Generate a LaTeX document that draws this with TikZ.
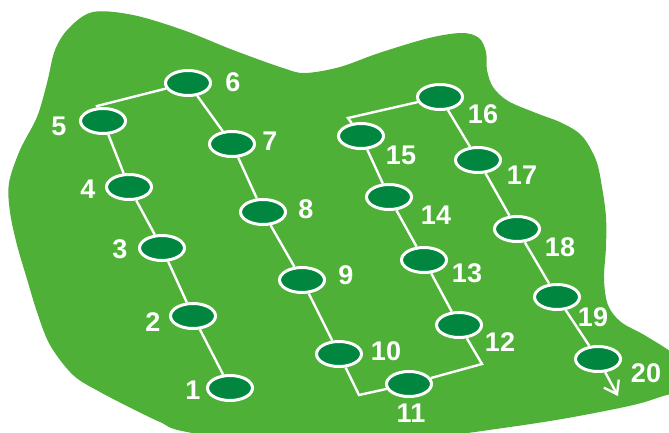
\documentclass[tikz,border=0pt]{standalone}
\usepackage{fontspec}
\setmainfont{Liberation Sans}
\usetikzlibrary{arrows.meta,shapes.geometric}

\definecolor{fieldgreen}{RGB}{78,176,54}
\definecolor{spotgreen}{RGB}{0,134,62}

\begin{document}
\begin{tikzpicture}[
    x=1pt, y=-1pt,
    spot/.style={ellipse, draw=white, line width=3pt, fill=spotgreen,
                 minimum width=45pt, minimum height=25pt, inner sep=0pt},
    link/.style={draw=white, line width=2.4pt},
    num/.style={text=white, font=\bfseries\fontsize{27}{27}\selectfont,
                inner sep=0pt},
  ]
  \useasboundingbox (0,0) rectangle (669,432);

  % field outline
  \begin{scope}
    \clip (0,0) rectangle (669,432);
    \fill[fieldgreen] plot[smooth cycle, tension=0.55] coordinates {
      (93,12) (133,15) (183,30) (233,50) (283,68) (305,73) (340,67)
      (379,53) (429,38) (462,33) (479,38) (486,52) (487,70) (493,87)
      (508,101) (536,113) (562,123) (582,136) (596,160) (602,187)
      (606,217) (606,247) (604,279) (608,305) (621,322) (646,336)
      (678,358) (690,385) (660,397) (629,406) (562,419) (496,429)
      (440,436) (300,448) (187,432) (160,422) (133,409) (100,392)
      (73,375) (50,345) (37,312) (27,279) (17,245) (10,212) (9,183)
      (20,150) (37,117) (47,83) (55,50) (69,28)};
  \end{scope}

  % stations
  \foreach \i/\x/\y in {1/230/388, 2/193/316, 3/162/248, 4/129/187, 5/103/121,
                        6/188/83, 7/232/144, 8/263/212, 9/302/280, 10/339/354,
                        11/409/384, 12/459/325, 13/424/260, 14/389/197,
                        15/361/136, 16/440/97, 17/478/160, 18/517/229,
                        19/557/297, 20/598/359}
    \node[spot] (e\i) at (\x,\y) {};

  % turning points
  \coordinate (c5) at (97,106);
  \coordinate (c10) at (359,395);
  \coordinate (c11) at (482,364);
  \coordinate (c15) at (348,118);
  \coordinate (out) at (618,396);

  % route
  \foreach \a/\b in {1/2, 2/3, 3/4, 4/5, 6/7, 7/8, 8/9, 9/10, 12/13, 13/14,
                     14/15, 16/17, 17/18, 18/19, 19/20}
    \draw[link] (e\a) -- (e\b);
  \draw[link] (e5) -- (c5) -- (e6);
  \draw[link] (e10) -- (c10) -- (e11);
  \draw[link] (e11) -- (c11) -- (e12);
  \draw[link] (e15) -- (c15) -- (e16);
  \draw[link, -{Straight Barb[length=12pt, width=17pt]}] (e20) -- (out);

  % numbers
  \foreach \i/\x/\y in {1/193/390, 2/153/322, 3/120/249, 4/88/189, 5/59/126,
                        6/233/82, 7/270/141, 8/306/209, 9/346/275, 10/386/351,
                        11/411/413, 12/500/342, 13/467/273, 14/436/215,
                        15/401/155, 16/483/114, 17/522/175, 18/560/247,
                        19/593/317, 20/646/373}
    \node[num] (n\i) at (\x,\y) {\i};
\end{tikzpicture}
\end{document}
